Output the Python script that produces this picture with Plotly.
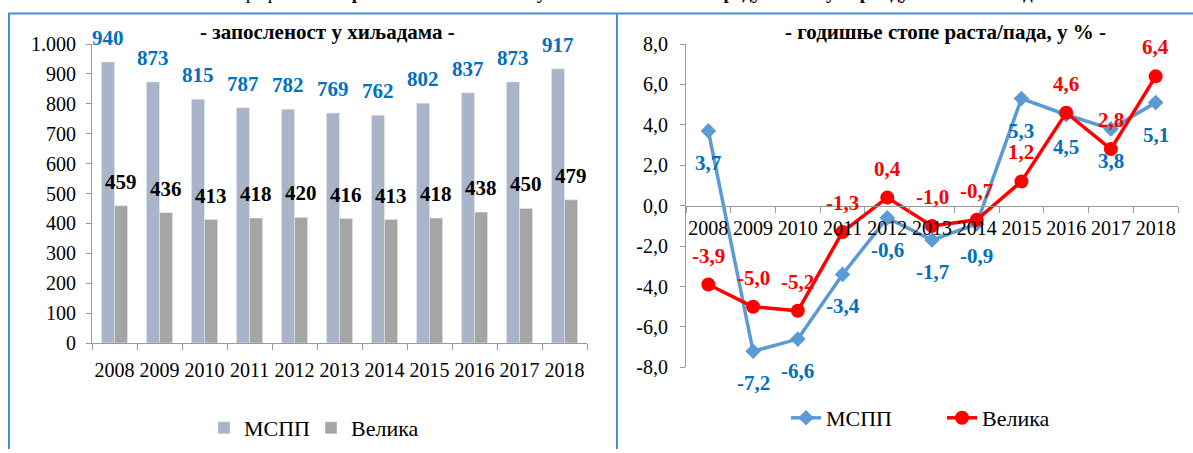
import plotly.graph_objects as go

# ---------------- data ----------------
years = ["2008", "2009", "2010", "2011", "2012", "2013", "2014", "2015", "2016", "2017", "2018"]
mspp_emp = [940, 873, 815, 787, 782, 769, 762, 802, 837, 873, 917]
velika_emp = [459, 436, 413, 418, 420, 416, 413, 418, 438, 450, 479]
mspp_rate = [3.7, -7.2, -6.6, -3.4, -0.6, -1.7, -0.9, 5.3, 4.5, 3.8, 5.1]
velika_rate = [-3.9, -5.0, -5.2, -1.3, 0.4, -1.0, -0.7, 1.2, 4.6, 2.8, 6.4]
emp_tickvals = [0, 100, 200, 300, 400, 500, 600, 700, 800, 900, 1000]
emp_ticktext = ["0", "100", "200", "300", "400", "500", "600", "700", "800", "900", "1.000"]
rate_tickvals = [-8, -6, -4, -2, 0, 2, 4, 6, 8]
rate_ticktext = ["-8,0", "-6,0", "-4,0", "-2,0", "0,0", "2,0", "4,0", "6,0", "8,0"]
series_names = ["МСПП", "Велика"]
title_left = "- запосленост у хиљадама -"
title_right = "- годишње стопе раста/пада, у % -"
caption = "Графикон 3. <b>Кретање запослености у МСПП и великим предузећима у периоду 2008-2018. године</b>"

# ---------------- style ----------------
W, H = 1193, 453
FONT = "Liberation Serif, Times New Roman, serif"
BLUE_BAR = "#AAB4C8"
GRAY_BAR = "#A5A5A5"
LINE_BLUE = "#5B9BD5"
LABEL_BLUE = "#0070C0"
RED = "#FF0000"
AXIS = "#9A9A9A"
FRAME = "#4A90D0"


def px_x(p):
    return p / W


def px_y(p):
    return (H - p) / H


def comma(v):
    return f"{v:.1f}".replace(".", ",")


fig = go.Figure()

# left: bars
fig.add_trace(go.Bar(x=years, y=mspp_emp, name=series_names[0], marker_color=BLUE_BAR,
                     xaxis="x", yaxis="y", legend="legend"))
fig.add_trace(go.Bar(x=years, y=velika_emp, name=series_names[1], marker_color=GRAY_BAR,
                     xaxis="x", yaxis="y", legend="legend"))

# right: lines
fig.add_trace(go.Scatter(x=years, y=mspp_rate, name=series_names[0], mode="lines+markers",
                         line=dict(color=LINE_BLUE, width=3.5),
                         marker=dict(symbol="diamond", size=12, color=LINE_BLUE),
                         xaxis="x2", yaxis="y2", legend="legend2"))
fig.add_trace(go.Scatter(x=years, y=velika_rate, name=series_names[1], mode="lines+markers",
                         line=dict(color=RED, width=3.5),
                         marker=dict(symbol="circle", size=14, color=RED),
                         xaxis="x2", yaxis="y2", legend="legend2"))

annotations = []
# on category axes, annotation x is the category index
for i, v in enumerate(mspp_emp):
    annotations.append(dict(x=i, y=v, xref="x", yref="y", text=f"<b>{v}</b>", showarrow=False,
                            xshift=-6.5, yshift=24, xanchor="center", yanchor="middle",
                            font=dict(family=FONT, size=21, color=LABEL_BLUE)))
for i, v in enumerate(velika_emp):
    annotations.append(dict(x=i, y=v, xref="x", yref="y", text=f"<b>{v}</b>", showarrow=False,
                            xshift=6.5, yshift=24, xanchor="center", yanchor="middle",
                            font=dict(family=FONT, size=21, color="#000000")))
for i, v in enumerate(mspp_rate):
    annotations.append(dict(x=i, y=v, xref="x2", yref="y2", text=f"<b>{comma(v)}</b>", showarrow=False,
                            yshift=-32, xanchor="center", yanchor="middle",
                            font=dict(family=FONT, size=21, color=LABEL_BLUE)))
for i, v in enumerate(velika_rate):
    annotations.append(dict(x=i, y=v, xref="x2", yref="y2", text=f"<b>{comma(v)}</b>", showarrow=False,
                            yshift=29, xanchor="center", yanchor="middle",
                            font=dict(family=FONT, size=21, color=RED)))

annotations.append(dict(x=px_x(327), y=px_y(32), xref="paper", yref="paper", text=f"<b>{title_left}</b>",
                        showarrow=False, xanchor="center", yanchor="middle",
                        font=dict(family=FONT, size=21, color="#000000")))
annotations.append(dict(x=px_x(945), y=px_y(32), xref="paper", yref="paper", text=f"<b>{title_right}</b>",
                        showarrow=False, xanchor="center", yanchor="middle",
                        font=dict(family=FONT, size=21, color="#000000")))
annotations.append(dict(x=px_x(650), y=1, xref="paper", yref="paper", text=caption,
                        showarrow=False, xanchor="center", yanchor="bottom", yshift=-5,
                        font=dict(family=FONT, size=19, color="#000000")))

shapes = [
    dict(type="line", xref="paper", yref="paper", x0=px_x(8), x1=1.0, y0=px_y(13.5), y1=px_y(13.5),
         line=dict(color=FRAME, width=2)),
    dict(type="line", xref="paper", yref="paper", x0=px_x(9), x1=px_x(9), y0=px_y(13.5), y1=px_y(449),
         line=dict(color=FRAME, width=2)),
    dict(type="line", xref="paper", yref="paper", x0=px_x(617), x1=px_x(617), y0=px_y(13.5), y1=px_y(449),
         line=dict(color=FRAME, width=2)),
]

tickfont = dict(family=FONT, size=20, color="#000000")

fig.update_layout(
    width=W, height=H,
    margin=dict(l=0, r=0, t=0, b=0, autoexpand=False),
    paper_bgcolor="white", plot_bgcolor="white",
    barmode="group", bargap=0.42, bargroupgap=0,
    font=dict(family=FONT, size=20, color="#000000"),
    xaxis=dict(domain=[px_x(92), px_x(587)], type="category", anchor="y",
               range=[-0.5, 10.5], automargin=False,
               showline=True, linecolor=AXIS, linewidth=1,
               ticks="outside", ticklen=6, tickcolor=AXIS, tickson="boundaries",
               tickangle=0, showgrid=False, tickfont=tickfont, ticklabelstandoff=9),
    yaxis=dict(domain=[px_y(343), px_y(44)], range=[0, 1000], anchor="x", automargin=False,
               tickvals=emp_tickvals, ticktext=emp_ticktext,
               showline=True, linecolor=AXIS, linewidth=1,
               ticks="outside", ticklen=5, tickcolor=AXIS,
               showgrid=False, zeroline=False, tickfont=tickfont, ticklabelstandoff=6),
    xaxis2=dict(domain=[px_x(686), px_x(1178)], type="category", anchor="free",
                position=px_y(205.7), range=[-0.5, 10.5], automargin=False,
                showline=True, linecolor=AXIS, linewidth=1,
                ticks="outside", ticklen=6, tickcolor=AXIS, tickson="boundaries",
                tickangle=0, showgrid=False, tickfont=tickfont, ticklabelstandoff=4),
    yaxis2=dict(domain=[px_y(367.4), px_y(44)], range=[-8, 8], anchor="x2", automargin=False,
                tickvals=rate_tickvals, ticktext=rate_ticktext,
                showline=True, linecolor=AXIS, linewidth=1,
                ticks="outside", ticklen=5, tickcolor=AXIS,
                showgrid=False, zeroline=False, tickfont=tickfont, ticklabelstandoff=8),
    legend=dict(orientation="h", x=px_x(204), y=px_y(428), xanchor="left", yanchor="middle",
                entrywidth=62, entrywidthmode="pixels",
                font=dict(family=FONT, size=22), bgcolor="rgba(0,0,0,0)"),
    legend2=dict(orientation="h", x=px_x(786), y=px_y(418), xanchor="left", yanchor="middle",
                 entrywidth=111, entrywidthmode="pixels",
                 font=dict(family=FONT, size=22), bgcolor="rgba(0,0,0,0)"),
    annotations=annotations,
    shapes=shapes,
    showlegend=True,
)

fig.write_html("out.html", config={"displayModeBar": False},
               post_script="document.body.style.margin='0';document.body.style.overflow='hidden';")
